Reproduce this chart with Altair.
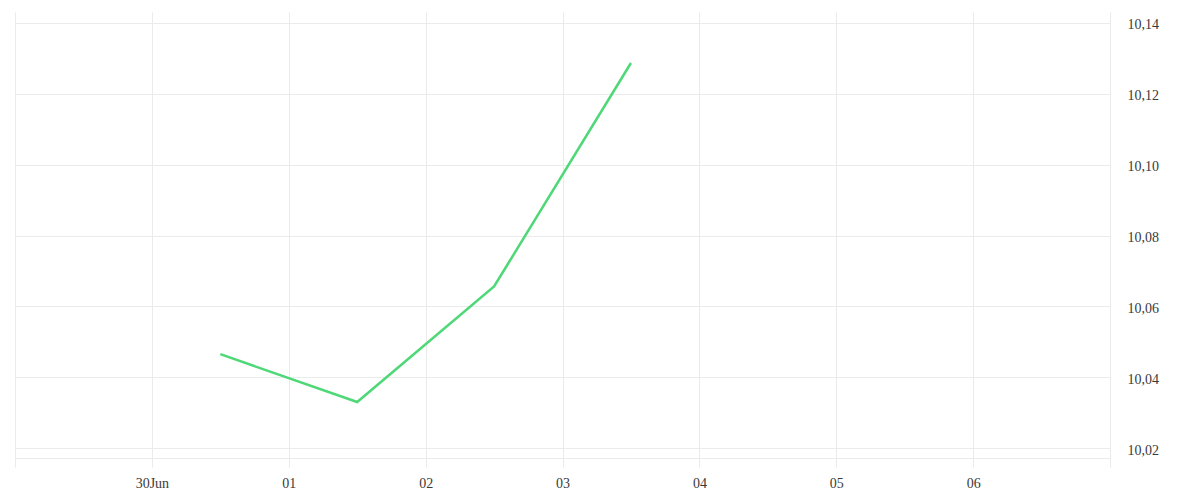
import altair as alt
import pandas as pd

dates = ["2020-06-30T12:00:00Z", "2020-07-01T12:00:00Z", "2020-07-02T12:00:00Z", "2020-07-03T12:00:00Z"]
values = [10.0465, 10.0330, 10.0656, 10.1287]
y_ticks = [10.02, 10.04, 10.06, 10.08, 10.10, 10.12, 10.14]
x_tick_days = [29, 30, 1, 2, 3, 4, 5, 6, 7]
x_tick_months = [6, 6, 7, 7, 7, 7, 7, 7, 7]

df = pd.DataFrame({"date": dates, "value": values})

x_vals = [alt.DateTime(year=2020, month=m, date=d, utc=True) for m, d in zip(x_tick_months, x_tick_days)]

FONT = "Liberation Serif"
GRID = "#ebebeb"

chart = alt.Chart(df).mark_line(color="#4ed877", strokeWidth=2.5).encode(
    x=alt.X(
        "date:T",
        scale=alt.Scale(
            type="utc",
            domain=[alt.DateTime(year=2020, month=6, date=29, utc=True),
                    alt.DateTime(year=2020, month=7, date=7, utc=True)],
            nice=False,
        ),
        axis=alt.Axis(
            values=x_vals,
            title=None,
            grid=True,
            gridColor=GRID,
            ticks=False,
            domain=True,
            domainColor=GRID,
            offset=-9,
            labelFont=FONT,
            labelFontSize=14,
            labelColor="#3a3a3a",
            labelPadding=18,
            labelExpr="(utcdate(datum.value) == 29 || (utcdate(datum.value) == 7 && utcmonth(datum.value) == 6)) ? '' : (utcdate(datum.value) == 30 ? '30Jun' : utcFormat(datum.value, '%d'))",
        ),
    ),
    y=alt.Y(
        "value:Q",
        scale=alt.Scale(domain=[10.01465, 10.1431], nice=False, zero=False),
        axis=alt.Axis(
            orient="right",
            values=y_ticks,
            title=None,
            grid=True,
            gridColor=GRID,
            ticks=False,
            domain=False,
            labelFont=FONT,
            labelFontSize=14,
            labelColor="#3a3a3a",
            labelPadding=17,
            labelOffset=2,
            labelExpr="replace(format(datum.value, '.2f'), '.', ',')",
        ),
    ),
).properties(
    width=1095,
    height=455,
    autosize=alt.AutoSizeParams(type="none"),
    padding={"left": 7, "top": 4, "right": 80, "bottom": 25},
).configure_view(stroke=None)

chart.save("out.html", embed_options={"renderer": "svg", "actions": False})
